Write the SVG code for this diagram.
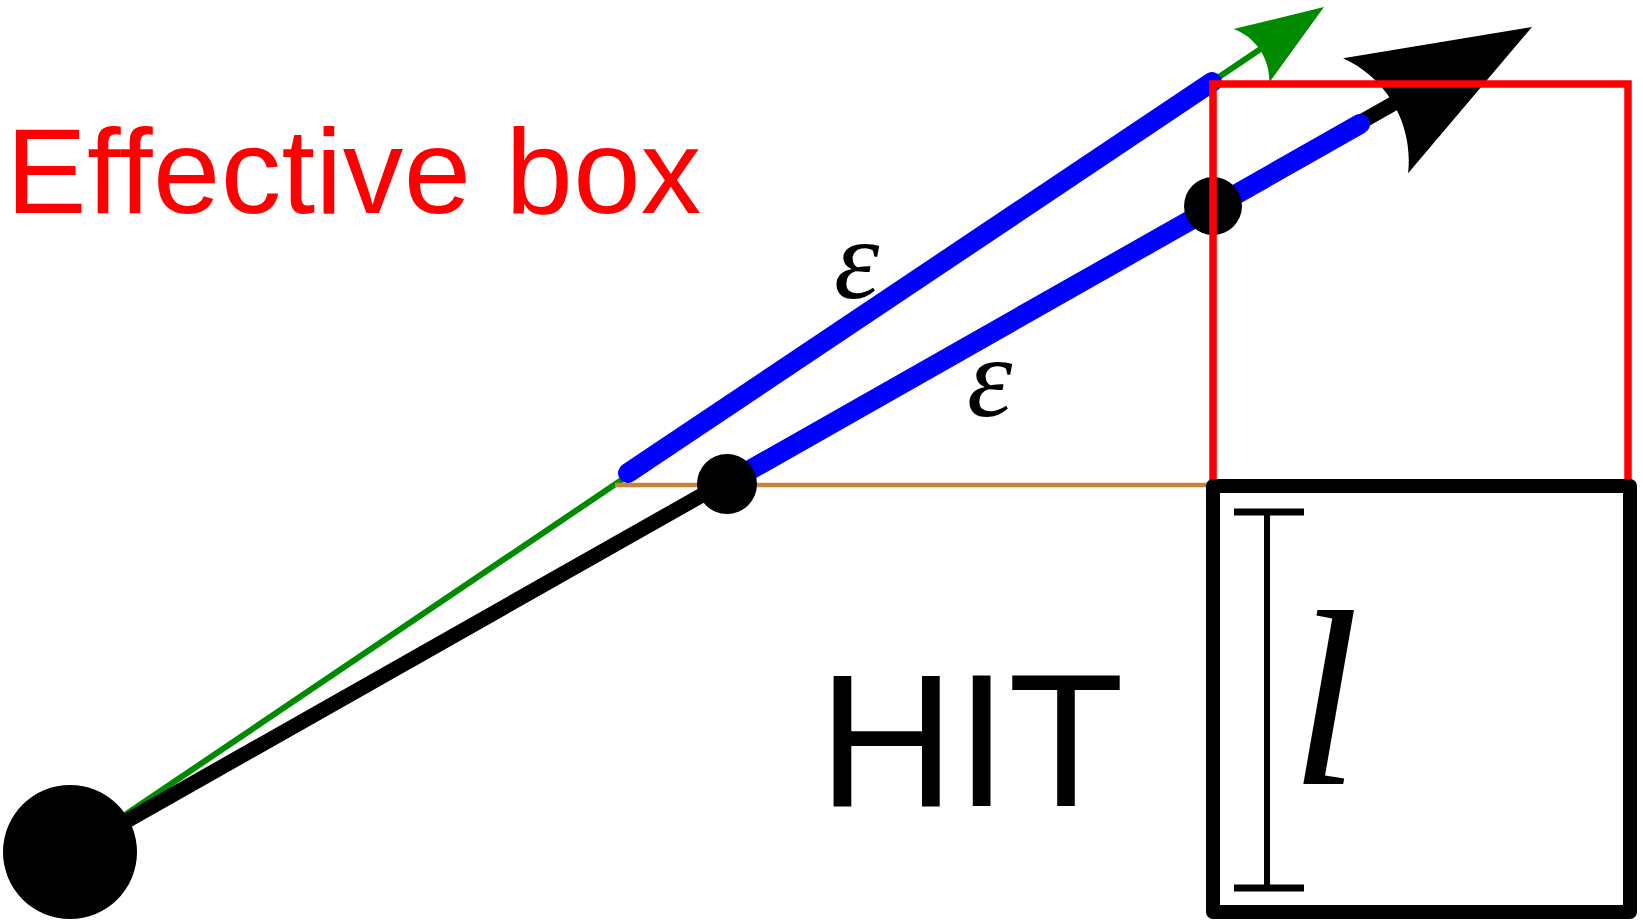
<svg xmlns="http://www.w3.org/2000/svg" width="1643" height="920" viewBox="0 0 1643 920">
<style>
.ray{fill:none;stroke-linecap:butt}
.blue{fill:none;stroke:#0000ff;stroke-width:20;stroke-linecap:round}
.dim{stroke:#000;fill:none}
.head{stroke:none}
.sans{font-family:"Liberation Sans",Arial,sans-serif}
.math{font-family:"Liberation Serif","Times New Roman",serif;font-style:italic}
</style>
<rect width="1643" height="920" fill="#fff"/>
<g id="connectors">
<line class="ray" x1="70" y1="852" x2="1262" y2="48" stroke="#008a00" stroke-width="6"/>
<path class="head" fill="#008a00" d="M1324,7 L1269.3,82.4 C1270.1,58.7 1255.7,37 1233.5,29 Z"/>
<line class="ray" x1="615" y1="485" x2="1213" y2="485" stroke="#c8843c" stroke-width="4.5"/>
<line class="ray" x1="70" y1="853" x2="1398" y2="101" stroke="#000" stroke-width="15"/>
<path class="head" fill="#000" d="M1532,27 L1408.1,173.2 C1413.5,124.6 1387.3,78 1343.1,58.2 Z"/>
<line class="blue" x1="628" y1="473" x2="1212" y2="82"/>
<line class="blue" x1="727" y1="483" x2="1360" y2="124"/>
</g>
<g id="origin"><circle cx="70" cy="852" r="67" fill="#000"/></g>
<g id="point-a"><circle cx="727" cy="484" r="30" fill="#000"/></g>
<g id="point-b"><circle cx="1213" cy="206" r="29" fill="#000"/></g>
<g id="effective-box">
<rect x="1213" y="84" width="415" height="402" fill="none" stroke="#ff0000" stroke-width="7.5"/>
<text class="sans" x="6" y="213" font-size="121" letter-spacing="0.4" fill="#ff0000">Effective box</text>
</g>
<g id="hit-box">
<rect x="1213" y="486" width="417" height="426" fill="none" stroke="#000" stroke-width="14" stroke-linejoin="round"/>
<text class="sans" x="818" y="806" font-size="190" fill="#000">HIT</text>
</g>
<g id="dimension">
<line class="dim" x1="1267" y1="512" x2="1267" y2="888" stroke-width="6"/>
<line class="dim" x1="1234" y1="512" x2="1304" y2="512" stroke-width="7"/>
<line class="dim" x1="1234" y1="888" x2="1304" y2="888" stroke-width="7"/>
<text class="math" x="1290" y="784" font-size="250" fill="#000">l</text>
</g>
<g id="labels">
<text class="math" x="834" y="298" font-size="115" fill="#000">ε</text>
<text class="math" x="967" y="416" font-size="115" fill="#000">ε</text>
</g>
</svg>
